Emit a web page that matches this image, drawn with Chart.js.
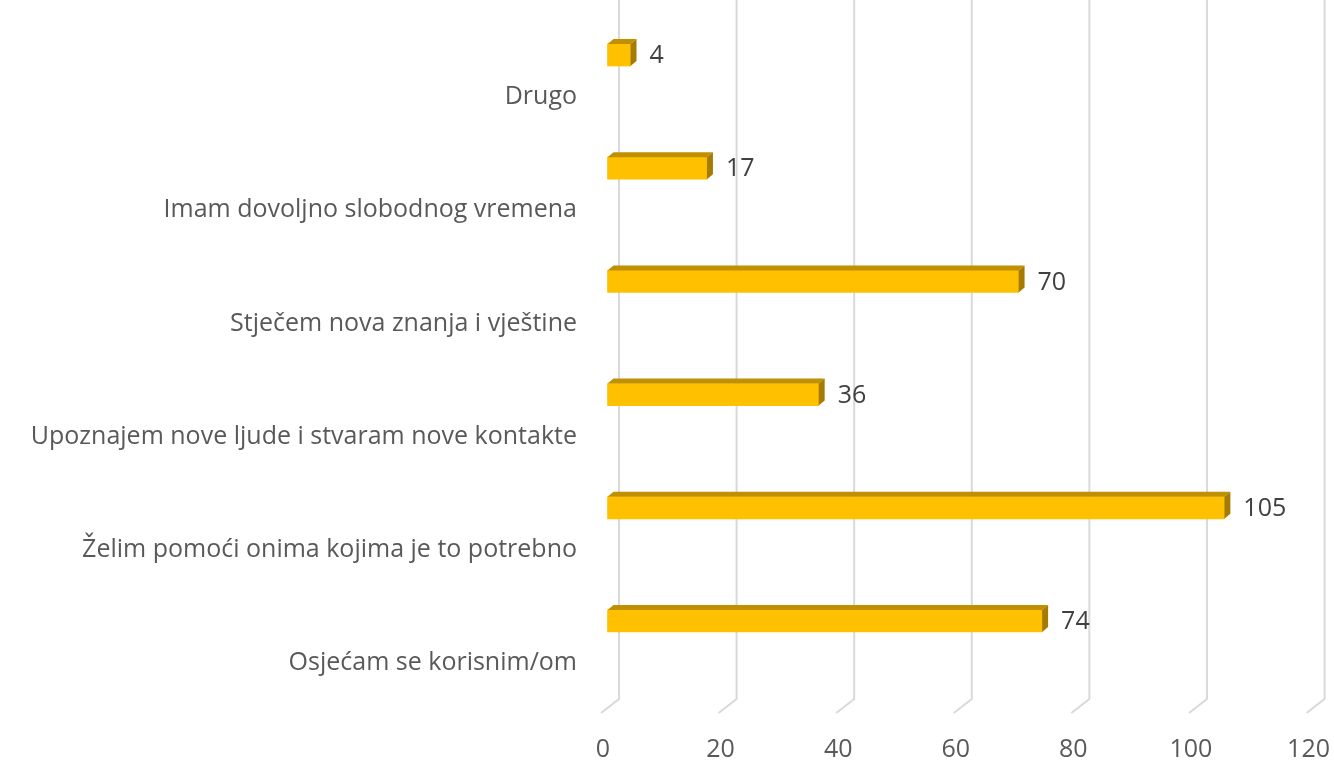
<!DOCTYPE html>
<html>
<head>
<meta charset="utf-8">
<script src="https://cdn.jsdelivr.net/npm/chart.js@4/dist/chart.umd.min.js"></script>
<style>
  html, body { margin: 0; padding: 0; background: #fff; }
  #wrap { width: 1334px; height: 760px; position: relative; }
</style>
</head>
<body>
<div id="wrap"><canvas id="reasons"></canvas></div>
<script>
// data (top to bottom)
const categories = [
  'Drugo',
  'Imam dovoljno slobodnog vremena',
  'Stječem nova znanja i vještine',
  'Upoznajem nove ljude i stvaram nove kontakte',
  'Želim pomoći onima kojima je to potrebno',
  'Osjećam se korisnim/om'
];
const answers = [4, 17, 70, 36, 105, 74];
const axisMin = 0;
const axisMax = 120;
const axisStep = 20;

const textFont = 'Open Sans';
const textColor = '#595959';

// back wall grid lines with the little 3d floor slant
const wallGrid = {
  id: 'wallGrid',
  beforeDatasetsDraw(chart) {
    const ctx = chart.ctx;
    const xs = chart.scales.x;
    ctx.save();
    ctx.strokeStyle = '#d9d9d9';
    ctx.lineWidth = 2;
    xs.ticks.forEach((t) => {
      const x = xs.getPixelForValue(t.value) + 12;
      ctx.beginPath();
      ctx.moveTo(x, 0);
      ctx.lineTo(x, 699);
      ctx.lineTo(x - 18, 713);
      ctx.stroke();
    });
    ctx.restore();
  }
};

// top and side faces of the bars, plus the value labels
const bar3d = {
  id: 'bar3d',
  afterDatasetsDraw(chart) {
    const ctx = chart.ctx;
    const meta = chart.getDatasetMeta(0);
    const dx = 6, dy = 5;
    ctx.save();
    meta.data.forEach((bar, i) => {
      const top = bar.y - bar.height / 2;
      const bottom = bar.y + bar.height / 2;
      const left = bar.base;
      const right = bar.x;
      // top face
      ctx.fillStyle = '#c09000';
      ctx.beginPath();
      ctx.moveTo(left, top);
      ctx.lineTo(left + dx, top - dy);
      ctx.lineTo(right + dx, top - dy);
      ctx.lineTo(right, top);
      ctx.closePath();
      ctx.fill();
      // side face
      ctx.fillStyle = '#a67c00';
      ctx.beginPath();
      ctx.moveTo(right, top);
      ctx.lineTo(right + dx, top - dy);
      ctx.lineTo(right + dx, bottom - dy);
      ctx.lineTo(right, bottom);
      ctx.closePath();
      ctx.fill();
      // value label
      ctx.fillStyle = '#404040';
      ctx.font = '25px ' + textFont;
      ctx.textAlign = 'left';
      ctx.textBaseline = 'middle';
      ctx.fillText(answers[i], right + dx + 13, bar.y + 1);
    });
    ctx.restore();
  }
};

const elem = document.getElementById('reasons');
const chart = new Chart(elem, {
  type: 'bar',
  data: {
    labels: categories,
    datasets: [{
      data: answers,
      backgroundColor: '#ffc000',
      borderWidth: 0,
      barThickness: 22,
      clip: false
    }]
  },
  options: {
    indexAxis: 'y',
    responsive: true,
    maintainAspectRatio: false,
    animation: false,
    layout: { padding: { top: 55, right: 16, left: 0, bottom: 0 } },
    plugins: {
      legend: { display: false },
      tooltip: { enabled: false }
    },
    scales: {
      x: {
        min: axisMin,
        max: axisMax,
        border: { display: false },
        // transparent grid, its tick length only pushes the labels down
        grid: { color: 'rgba(0,0,0,0)', drawOnChartArea: false, drawTicks: true, tickLength: 114 },
        ticks: {
          stepSize: axisStep,
          color: textColor,
          font: { family: textFont, size: 25 },
          labelOffset: -4,
          padding: 0
        },
        afterFit: (scale) => { scale.height = 139; }
      },
      y: {
        offset: false,
        border: { display: false },
        grid: { display: false, drawTicks: false },
        ticks: {
          color: textColor,
          font: { family: textFont, size: 25 },
          labelOffset: 42,
          padding: 30
        },
        afterFit: (scale) => { scale.width = 607; }
      }
    }
  },
  plugins: [wallGrid, bar3d]
});
</script>
</body>
</html>
